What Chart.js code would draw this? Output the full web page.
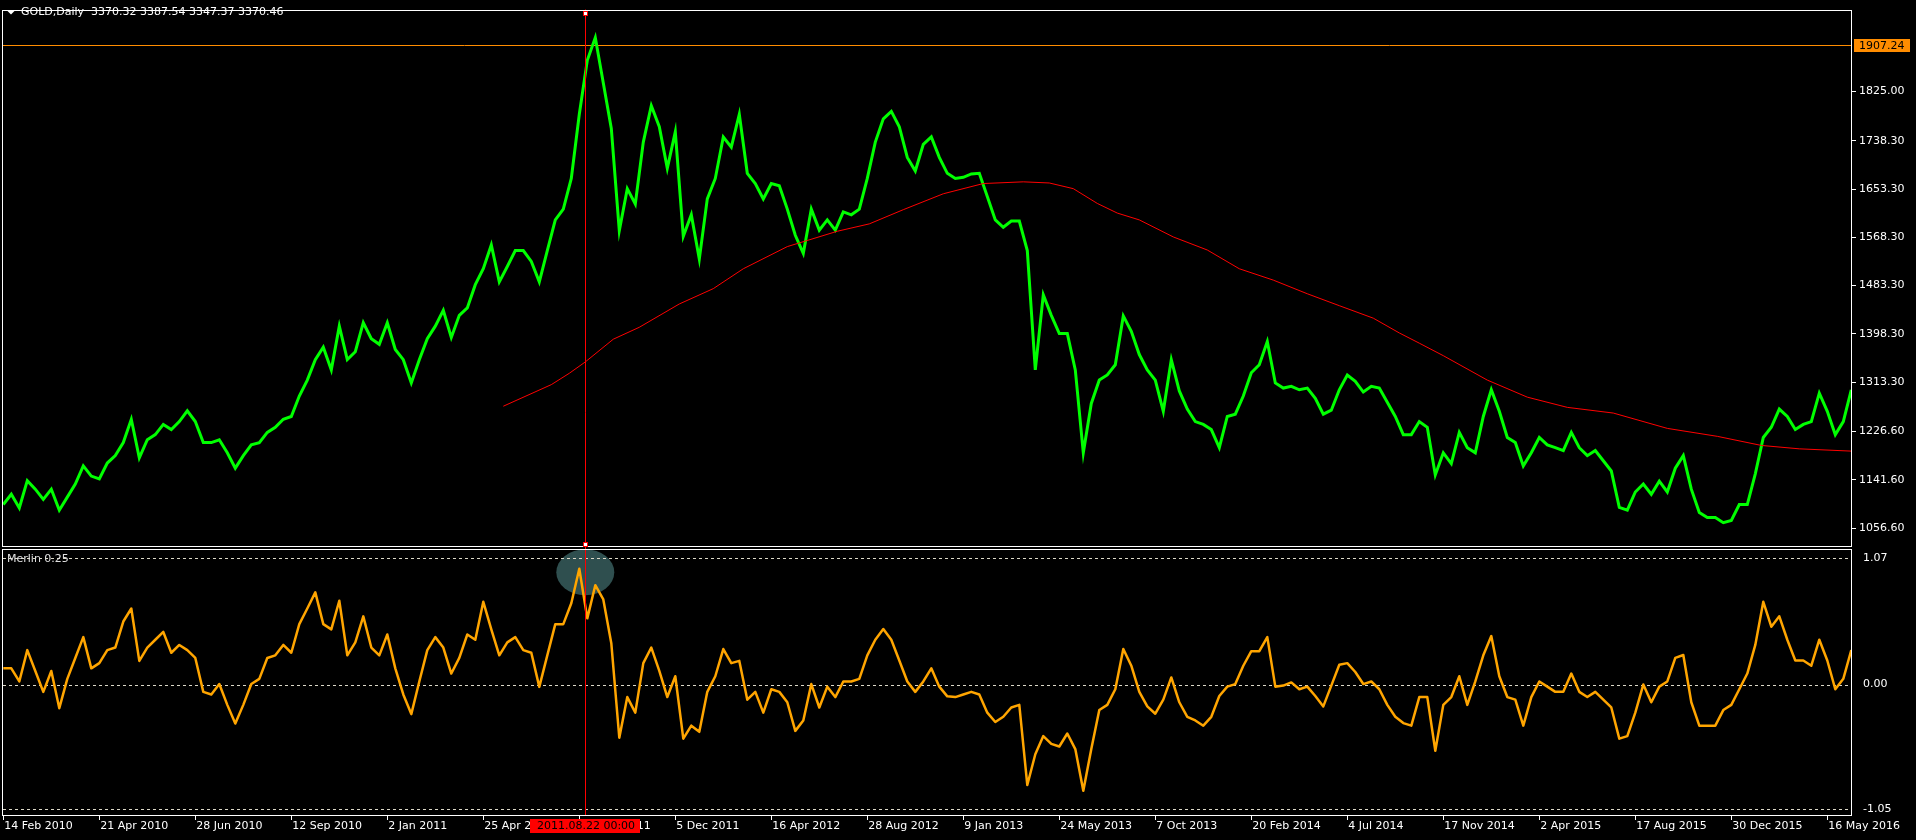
<!DOCTYPE html>
<html>
<head>
<meta charset="utf-8">
<script src="https://cdn.jsdelivr.net/npm/chart.js@4.4.1/dist/chart.umd.min.js"></script>
<style>
  html, body { margin: 0; padding: 0; background: #000; overflow: hidden; }
  #wrap { position: relative; width: 1916px; height: 840px; }
</style>
</head>
<body>
<div id="wrap"><canvas id="c" width="1916" height="840"></canvas></div>
<script>
// ---------------- DATA ----------------
// sampling step in daily bars for the price and oscillator series
const STEP = 4;

// GOLD daily price (approx. close), one value every STEP bars, from 14 Feb 2010
const goldPrice = [
  1098,1116,1092,1140,1125,1107,1125,1088,1111,1134,1166,1148,1143,1171,1184,1207,1248,1180,1212,1221,
  1239,1230,1244,1263,1244,1207,1207,1212,1189,1162,1184,1203,1207,1225,1234,1248,1253,1289,1317,1353,
  1375,1335,1412,1353,1367,1418,1390,1380,1418,1371,1353,1312,1353,1390,1412,1440,1392,1431,1444,1485,
  1513,1555,1490,1517,1545,1545,1526,1490,1545,1599,1618,1672,1785,1880,1920,1840,1760,1580,1654,1627,
  1736,1800,1763,1690,1754,1570,1608,1530,1636,1672,1745,1727,1785,1681,1663,1636,1663,1659,1618,1572,
  1540,1618,1581,1599,1581,1613,1608,1618,1672,1736,1777,1790,1763,1709,1685,1732,1745,1709,1681,1672,
  1674,1680,1681,1640,1599,1586,1597,1597,1545,1335,1467,1431,1399,1399,1335,1189,1276,1317,1326,1344,
  1430,1403,1362,1335,1317,1262,1353,1298,1266,1244,1239,1230,1198,1253,1257,1289,1330,1344,1385,1312,
  1303,1306,1300,1303,1285,1257,1264,1300,1326,1315,1296,1306,1303,1278,1253,1221,1221,1244,1234,1150,
  1189,1170,1225,1198,1189,1253,1300,1262,1216,1207,1166,1189,1216,1203,1198,1193,1225,1198,1184,1193,
  1175,1157,1093,1088,1120,1134,1116,1139,1120,1162,1184,1125,1084,1075,1075,1066,1070,1098,1098,1152,
  1216,1234,1266,1253,1230,1239,1244,1294,1262,1221,1244,1300
];

// Merlin 0.25 oscillator, one value every STEP bars
const merlin = [
  0.137,0.137,0.026,0.291,0.115,-0.062,0.115,-0.2,0.048,0.225,0.401,0.137,0.181,0.291,0.313,0.533,0.643,0.2,0.313,0.379,
  0.445,0.269,0.335,0.291,0.225,-0.062,-0.084,0.004,-0.172,-0.33,-0.172,0.004,0.048,0.225,0.247,0.335,0.269,0.511,0.643,0.78,
  0.511,0.467,0.709,0.247,0.357,0.577,0.313,0.247,0.423,0.137,-0.084,-0.25,0.026,0.291,0.401,0.313,0.093,0.225,0.423,0.379,
  0.70,0.467,0.247,0.357,0.401,0.291,0.269,-0.02,0.247,0.511,0.511,0.687,0.98,0.56,0.84,0.72,0.35,-0.45,-0.106,-0.238,
  0.181,0.313,0.115,-0.106,0.070,-0.458,-0.348,-0.40,-0.062,0.070,0.30,0.181,0.20,-0.128,-0.062,-0.238,-0.040,-0.062,-0.150,-0.392,
  -0.304,0.004,-0.194,-0.018,-0.106,0.026,0.026,0.048,0.247,0.379,0.47,0.379,0.203,0.026,-0.062,0.026,0.137,-0.018,-0.10,-0.106,
  -0.084,-0.062,-0.084,-0.238,-0.317,-0.273,-0.194,-0.172,-0.85,-0.59,-0.436,-0.502,-0.524,-0.414,-0.546,-0.899,-0.546,-0.216,-0.172,-0.040,
  0.3,0.159,-0.062,-0.185,-0.247,-0.128,0.06,-0.150,-0.273,-0.304,-0.348,-0.273,-0.097,-0.018,0.004,0.159,0.282,0.282,0.401,-0.018,
  -0.009,0.018,-0.040,-0.018,-0.097,-0.185,-0.009,0.167,0.181,0.106,0.004,0.026,-0.040,-0.172,-0.273,-0.326,-0.348,-0.106,-0.106,-0.56,
  -0.172,-0.106,0.070,-0.172,0.026,0.247,0.41,0.070,-0.106,-0.128,-0.348,-0.106,0.026,-0.018,-0.062,-0.062,0.093,-0.062,-0.106,-0.062,
  -0.128,-0.194,-0.458,-0.436,-0.238,0.0,-0.150,-0.018,0.026,0.225,0.25,-0.150,-0.348,-0.348,-0.348,-0.216,-0.172,-0.040,0.093,0.335,
  0.7,0.489,0.577,0.379,0.203,0.203,0.159,0.379,0.203,-0.040,0.048,0.291
];

// red moving average: bar index and value
const maBars   = [250,274,283,291,305,318,338,355,370,392,417,433,450,470,490,510,523,535,547,557,568,585,602,618,635,652,668,685,698,708,720,742,762,782,805,832,857,879,898,924];
const maValues = [1271,1309,1329,1349,1389,1410,1451,1478,1513,1552,1579,1592,1617,1645,1663,1666,1664,1654,1628,1611,1599,1569,1546,1513,1493,1469,1448,1426,1400,1382,1360,1317,1287,1269,1259,1232,1218,1202,1196,1192];

// time axis: bar index of each date label
const dateTickBars = [0,48,96,144,192,240,288,336,384,432,480,528,576,624,672,720,768,816,864,912];
const dateTickLabels = ['14 Feb 2010','21 Apr 2010','28 Jun 2010','12 Sep 2010','2 Jan 2011','25 Apr 2011','17 Aug 2011','5 Dec 2011','16 Apr 2012','28 Aug 2012','9 Jan 2013','24 May 2013','7 Oct 2013','20 Feb 2014','4 Jul 2014','17 Nov 2014','2 Apr 2015','17 Aug 2015','30 Dec 2015','16 May 2016'];

// price axis labels and oscillator levels
const priceTicks = [1056.60,1141.60,1226.60,1313.30,1398.30,1483.30,1568.30,1653.30,1738.30,1825.00];
const oscLevels = [-1.05, 0.00, 1.07];
const highLine = 1907.24;
const crossBar = 291;           // bar of 2011.08.22
const crossLabel = '2011.08.22 00:00';
const headerText = 'GOLD,Daily  3370.32 3387.54 3347.37 3370.46';
const oscTitle = 'Merlin 0.25';
const markCenter = {bar: 291, value: 0.95};   // highlighted ellipse on the oscillator

// ---------------- CHART ----------------
const FONT = {family: '"DejaVu Sans", Verdana, sans-serif', size: 11};
const FONTSTR = '11px "DejaVu Sans", Verdana, sans-serif';

const paneDecor = {
  id: 'paneDecor',
  beforeDraw(chart) {
    const c = chart.ctx;
    c.save();
    c.fillStyle = '#000';
    c.fillRect(0, 0, chart.width, chart.height);
    c.restore();
  },
  beforeDatasetsDraw(chart) {
    const c = chart.ctx, x = chart.scales.x, yp = chart.scales.yPrice, yo = chart.scales.yOsc;
    const a = chart.chartArea;
    // ellipse marker, clipped to oscillator pane
    c.save();
    c.beginPath();
    c.rect(a.left, yo.top + 1.5, a.right - a.left, yo.bottom - yo.top);
    c.clip();
    c.fillStyle = '#2f4f4f';
    c.beginPath();
    c.ellipse(x.getPixelForValue(markCenter.bar), yo.getPixelForValue(markCenter.value), 29, 23, 0, 0, Math.PI * 2);
    c.fill();
    c.restore();
    // dashed levels
    c.save();
    c.strokeStyle = '#dcd8c8';
    c.lineWidth = 1;
    c.setLineDash([3, 3]);
    oscLevels.forEach(v => {
      const py = Math.round(yo.getPixelForValue(v)) + 0.5;
      c.beginPath();
      c.moveTo(a.left + 1, py);
      c.lineTo(a.right, py);
      c.stroke();
    });
    c.restore();
    // high price line
    c.save();
    c.strokeStyle = '#ff8c00';
    c.lineWidth = 1;
    const hy = Math.round(yp.getPixelForValue(highLine)) + 0.5;
    c.beginPath();
    c.moveTo(a.left, hy);
    c.lineTo(a.right, hy);
    c.stroke();
    c.restore();
  },
  afterDatasetsDraw(chart) {
    const c = chart.ctx, x = chart.scales.x, yp = chart.scales.yPrice, yo = chart.scales.yOsc;
    const a = chart.chartArea;
    const L = Math.round(a.left) + 0.5, R = Math.round(a.right) - 0.5;
    const pBottom = Math.round(yp.bottom) - 1.5;
    const oTop = Math.round(yo.top) + 1.5;
    const B = Math.round(a.bottom) - 0.5;
    // crosshair
    const cx = Math.round(x.getPixelForValue(crossBar)) + 0.5;
    c.save();
    c.strokeStyle = '#ff0000';
    c.lineWidth = 1;
    c.beginPath();
    c.moveTo(cx, a.top);
    c.lineTo(cx, a.bottom);
    c.stroke();
    c.restore();
    // pane borders
    c.save();
    c.strokeStyle = '#ffffff';
    c.lineWidth = 1;
    c.strokeRect(L, Math.round(a.top) + 0.5, R - L, pBottom - Math.round(a.top) - 0.5);
    c.strokeRect(L, oTop, R - L, B - oTop);
    c.restore();
    // crosshair handles
    c.save();
    [Math.round(a.top) + 1, Math.round(yp.bottom) - 6].forEach(ty => {
      c.fillStyle = '#ffffff';
      c.fillRect(cx - 2.5, ty, 5, 5);
      c.strokeStyle = '#ff0000';
      c.strokeRect(cx - 2, ty + 0.5, 4, 4);
    });
    c.restore();
    // header
    c.save();
    c.fillStyle = '#ffffff';
    c.beginPath();
    c.moveTo(7, 10.5);
    c.lineTo(15, 10.5);
    c.lineTo(11, 14.5);
    c.closePath();
    c.fill();
    c.font = FONTSTR;
    c.textBaseline = 'middle';
    c.textAlign = 'left';
    c.fillText(headerText, 21, 12.5);
    c.fillStyle = '#e0e0e0';
    c.fillText(oscTitle, 7, yo.getPixelForValue(oscLevels[2]) + 1);
    c.restore();
  },
  afterDraw(chart) {
    const c = chart.ctx, x = chart.scales.x, yp = chart.scales.yPrice;
    const a = chart.chartArea;
    c.save();
    // high price tag on the axis
    const hy = Math.round(yp.getPixelForValue(highLine));
    c.fillStyle = '#ff8c00';
    c.fillRect(a.right + 2, hy - 6, 56, 13);
    c.fillStyle = '#000';
    c.font = FONTSTR;
    c.textBaseline = 'middle';
    c.textAlign = 'left';
    c.fillText(highLine.toFixed(2), a.right + 7, hy + 1);
    // crosshair date tag
    const cx = Math.round(x.getPixelForValue(crossBar));
    c.fillStyle = '#ff0000';
    c.fillRect(cx - 55, a.bottom + 3, 110, 14);
    c.fillStyle = '#000';
    c.textAlign = 'center';
    c.fillText(crossLabel, cx + 1, a.bottom + 10.5);
    c.restore();
  }
};

const chart = new Chart(document.getElementById('c'), {
  type: 'line',
  data: {
    datasets: [
      {
        label: 'MA',
        data: maBars.map((b, i) => ({x: b, y: maValues[i]})),
        yAxisID: 'yPrice',
        borderColor: '#ff0000',
        borderWidth: 1,
        pointRadius: 0,
        tension: 0
      },
      {
        label: 'GOLD',
        data: goldPrice.map((v, k) => ({x: k * STEP, y: v})),
        yAxisID: 'yPrice',
        borderColor: '#00ff00',
        borderWidth: 3,
        borderJoinStyle: 'miter',
        pointRadius: 0,
        tension: 0
      },
      {
        label: 'Merlin 0.25',
        data: merlin.map((v, k) => ({x: k * STEP, y: v})),
        yAxisID: 'yOsc',
        borderColor: '#ffa500',
        borderWidth: 2.5,
        borderJoinStyle: 'round',
        pointRadius: 0,
        tension: 0
      }
    ]
  },
  options: {
    responsive: false,
    animation: false,
    events: [],
    layout: {padding: {top: 2, left: 2, right: 0, bottom: 0}},
    plugins: {legend: {display: false}, tooltip: {enabled: false}},
    scales: {
      x: {
        type: 'linear',
        position: 'bottom',
        min: -0.65,
        max: 924.35,
        afterBuildTicks: s => { s.ticks = dateTickBars.map(v => ({value: v})); },
        afterFit: s => { s.height = 24; },
        ticks: {
          autoSkip: false,
          maxRotation: 0,
          minRotation: 0,
          align: 'start',
          padding: 0,
          labelOffset: 1,
          color: '#ffffff',
          font: FONT,
          callback: (v, i) => dateTickLabels[i]
        },
        grid: {display: true, drawOnChartArea: false, drawTicks: true, tickLength: 4, color: '#ffffff'},
        border: {display: false}
      },
      yPrice: {
        type: 'linear',
        position: 'right',
        stack: 'panes',
        stackWeight: 543.5,
        min: 1021.4,
        max: 1969.2,
        afterBuildTicks: s => { s.ticks = priceTicks.map(v => ({value: v})); },
        afterFit: s => { s.width = 64; },
        ticks: {
          padding: 3,
          color: '#ffffff',
          font: FONT,
          callback: v => Number(v).toFixed(2)
        },
        grid: {display: true, drawOnChartArea: false, drawTicks: true, tickLength: 4, color: '#ffffff'},
        border: {display: false}
      },
      yOsc: {
        type: 'linear',
        position: 'right',
        stack: 'panes',
        stackWeight: 270.5,
        min: -1.112,
        max: 1.1547,
        afterBuildTicks: s => { s.ticks = oscLevels.map(v => ({value: v})); },
        afterFit: s => { s.width = 64; },
        ticks: {
          padding: 3,
          color: '#ffffff',
          font: FONT,
          callback: v => Number(v).toFixed(2)
        },
        grid: {display: false},
        border: {display: false}
      }
    }
  },
  plugins: [paneDecor]
});
</script>
</body>
</html>
